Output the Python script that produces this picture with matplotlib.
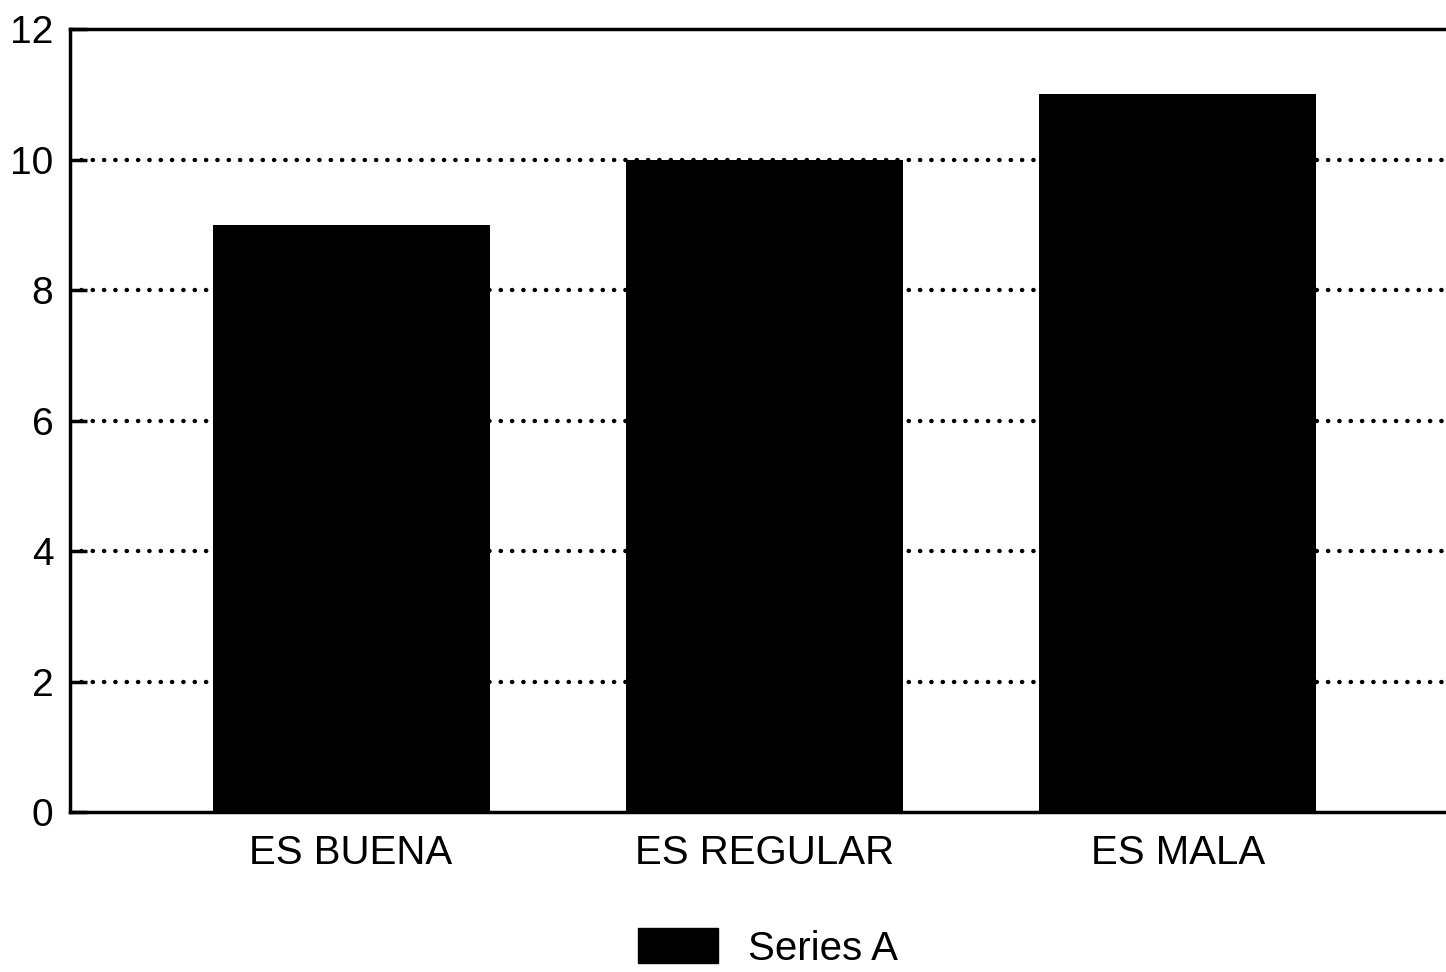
import matplotlib
matplotlib.use("Agg")
import matplotlib.pyplot as plt
from matplotlib.patches import Patch

# Data
categories = ["ES BUENA", "ES REGULAR", "ES MALA"]
values = [9, 10, 11]
yticks = [0, 2, 4, 6, 8, 10, 12]
series_name = "Series A"

plt.rcParams['font.family'] = ['Liberation Sans', 'DejaVu Sans']

W, H = 1446, 972
fig = plt.figure(figsize=(W / 100, H / 100), dpi=100)
fig.patch.set_facecolor("white")

# axes frame; the right side runs past the figure edge
left, right, top, bottom = 70, 1459, 29, 812
ax = fig.add_axes([left / W, (H - bottom) / H, (right - left) / W, (bottom - top) / H])

x = list(range(len(categories)))
ax.bar(x, values, width=0.67, color="black", zorder=3)

ax.set_xlim(-0.68, 2.68)
ax.set_ylim(0, 12)
ax.set_yticks(yticks)
ax.set_yticklabels([str(t) for t in yticks], fontsize=28)
ax.set_xticks(x)
ax.set_xticklabels(categories, fontsize=29)

ax.tick_params(axis="y", direction="in", length=12, width=2.5, pad=12)
ax.tick_params(axis="x", length=0, pad=16)

# dotted horizontal guides
for t in yticks[1:-1]:
    ax.axhline(t, color="black", linewidth=3.2, linestyle=(0, (0.05, 2.5)),
               dash_capstyle="round", zorder=1)

for s in ["left", "top", "bottom", "right"]:
    ax.spines[s].set_linewidth(2.5)
    ax.spines[s].set_color("black")

handle = Patch(facecolor="black", edgecolor="black")
fig.legend([handle], [series_name], loc="center",
           bbox_to_anchor=(768 / W, 1 - 948 / H), frameon=False,
           fontsize=29, handlelength=2.0, handleheight=0.95, handletextpad=0.75)

fig.savefig("out.png", dpi=100, facecolor="white")
